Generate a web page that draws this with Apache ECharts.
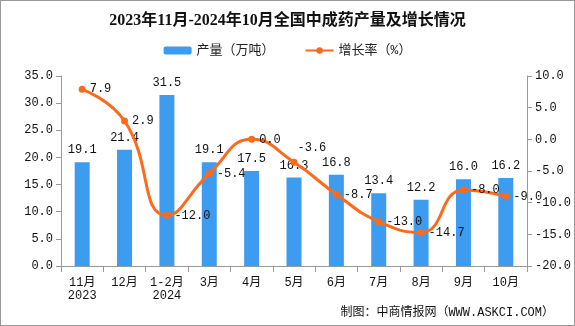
<!DOCTYPE html>
<html><head><meta charset="utf-8">
<script src="https://cdn.jsdelivr.net/npm/echarts@6/dist/echarts.min.js"></script>
<style>html,body{margin:0;padding:0;background:#fff}#c{width:575px;height:326px;box-sizing:border-box;border:1px solid #999}</style>
</head><body><div id="c"></div>
<script>
const categories = ['11月\n2023','12月','1-2月\n2024','3月','4月','5月','6月','7月','8月','9月','10月'];
const output = [19.1, 21.4, 31.5, 19.1, 17.5, 16.3, 16.8, 13.4, 12.2, 16.0, 16.2];
const growth = [7.9, 2.9, -12.0, -5.4, 0.0, -3.6, -8.7, -13.0, -14.7, -8.0, -9.0];
const leftTicks = {min: 0, max: 35, interval: 5};
const rightTicks = {min: -20, max: 10, interval: 5};

const font = "'Liberation Mono','DejaVu Sans Mono','Noto Sans CJK SC',monospace";
const growthData = growth.map((v, i) => i === 5 ? {value: v, label: {offset: [-4, -14]}} : v);
const chart = echarts.init(document.getElementById('c'));
chart.setOption({
  animation: false,
  title: {text: '2023年11月-2024年10月全国中成药产量及增长情况', left: 'center', top: 7,
    textStyle: {fontSize: 16, fontWeight: 'bold', color: '#111', fontFamily: "'Liberation Serif','Noto Sans CJK SC',serif"}},
  legend: {top: 38, left: 'center', itemGap: 30, itemWidth: 28, itemHeight: 8,
    textStyle: {fontSize: 13, color: '#222', fontFamily: font},
    data: [{name: '产量（万吨）'}, {name: '增长率（%）'}]},
  grid: {left: 60, right: 47, top: 75, bottom: 59},
  xAxis: {type: 'category', data: categories,
    axisLine: {lineStyle: {color: '#999'}},
    axisTick: {show: true, length: 6, lineStyle: {color: '#999'}},
    axisLabel: {color: '#111', fontSize: 12, fontFamily: font, margin: 10, lineHeight: 13, interval: 0}},
  yAxis: [
    {type: 'value', min: leftTicks.min, max: leftTicks.max, interval: leftTicks.interval,
      splitLine: {show: false}, axisLine: {show: true, lineStyle: {color: '#999'}},
      axisTick: {show: true, length: 5, lineStyle: {color: '#999'}},
      axisLabel: {color: '#111', fontSize: 12, fontFamily: font, formatter: v => v.toFixed(1)}},
    {type: 'value', min: rightTicks.min, max: rightTicks.max, interval: rightTicks.interval,
      splitLine: {show: false}, axisLine: {show: true, lineStyle: {color: '#999'}},
      axisTick: {show: true, length: 5, lineStyle: {color: '#999'}},
      axisLabel: {color: '#111', fontSize: 12, fontFamily: font, formatter: v => v.toFixed(1)}}
  ],
  series: [
    {name: '产量（万吨）', type: 'bar', data: output, barWidth: 15, itemStyle: {color: '#3d9bf0'},
      label: {show: true, position: 'top', color: '#111', fontSize: 12, fontFamily: font, distance: 6,
        formatter: p => p.value.toFixed(1)}},
    {name: '增长率（%）', type: 'line', yAxisIndex: 1, data: growthData, smooth: true,
      symbol: 'circle', symbolSize: 7, lineStyle: {width: 3, color: '#fd6a1c'}, itemStyle: {color: '#fd6a1c'},
      label: {show: true, position: 'right', color: '#111', fontSize: 12, fontFamily: font, distance: 4,
        formatter: p => p.value.toFixed(1)}}
  ],
  graphic: [{type: 'text', right: 20, bottom: 6,
    style: {text: '制图：中商情报网（WWW.ASKCI.COM）', fontSize: 12, fill: '#111', fontFamily: font}}]
});
</script></body></html>
